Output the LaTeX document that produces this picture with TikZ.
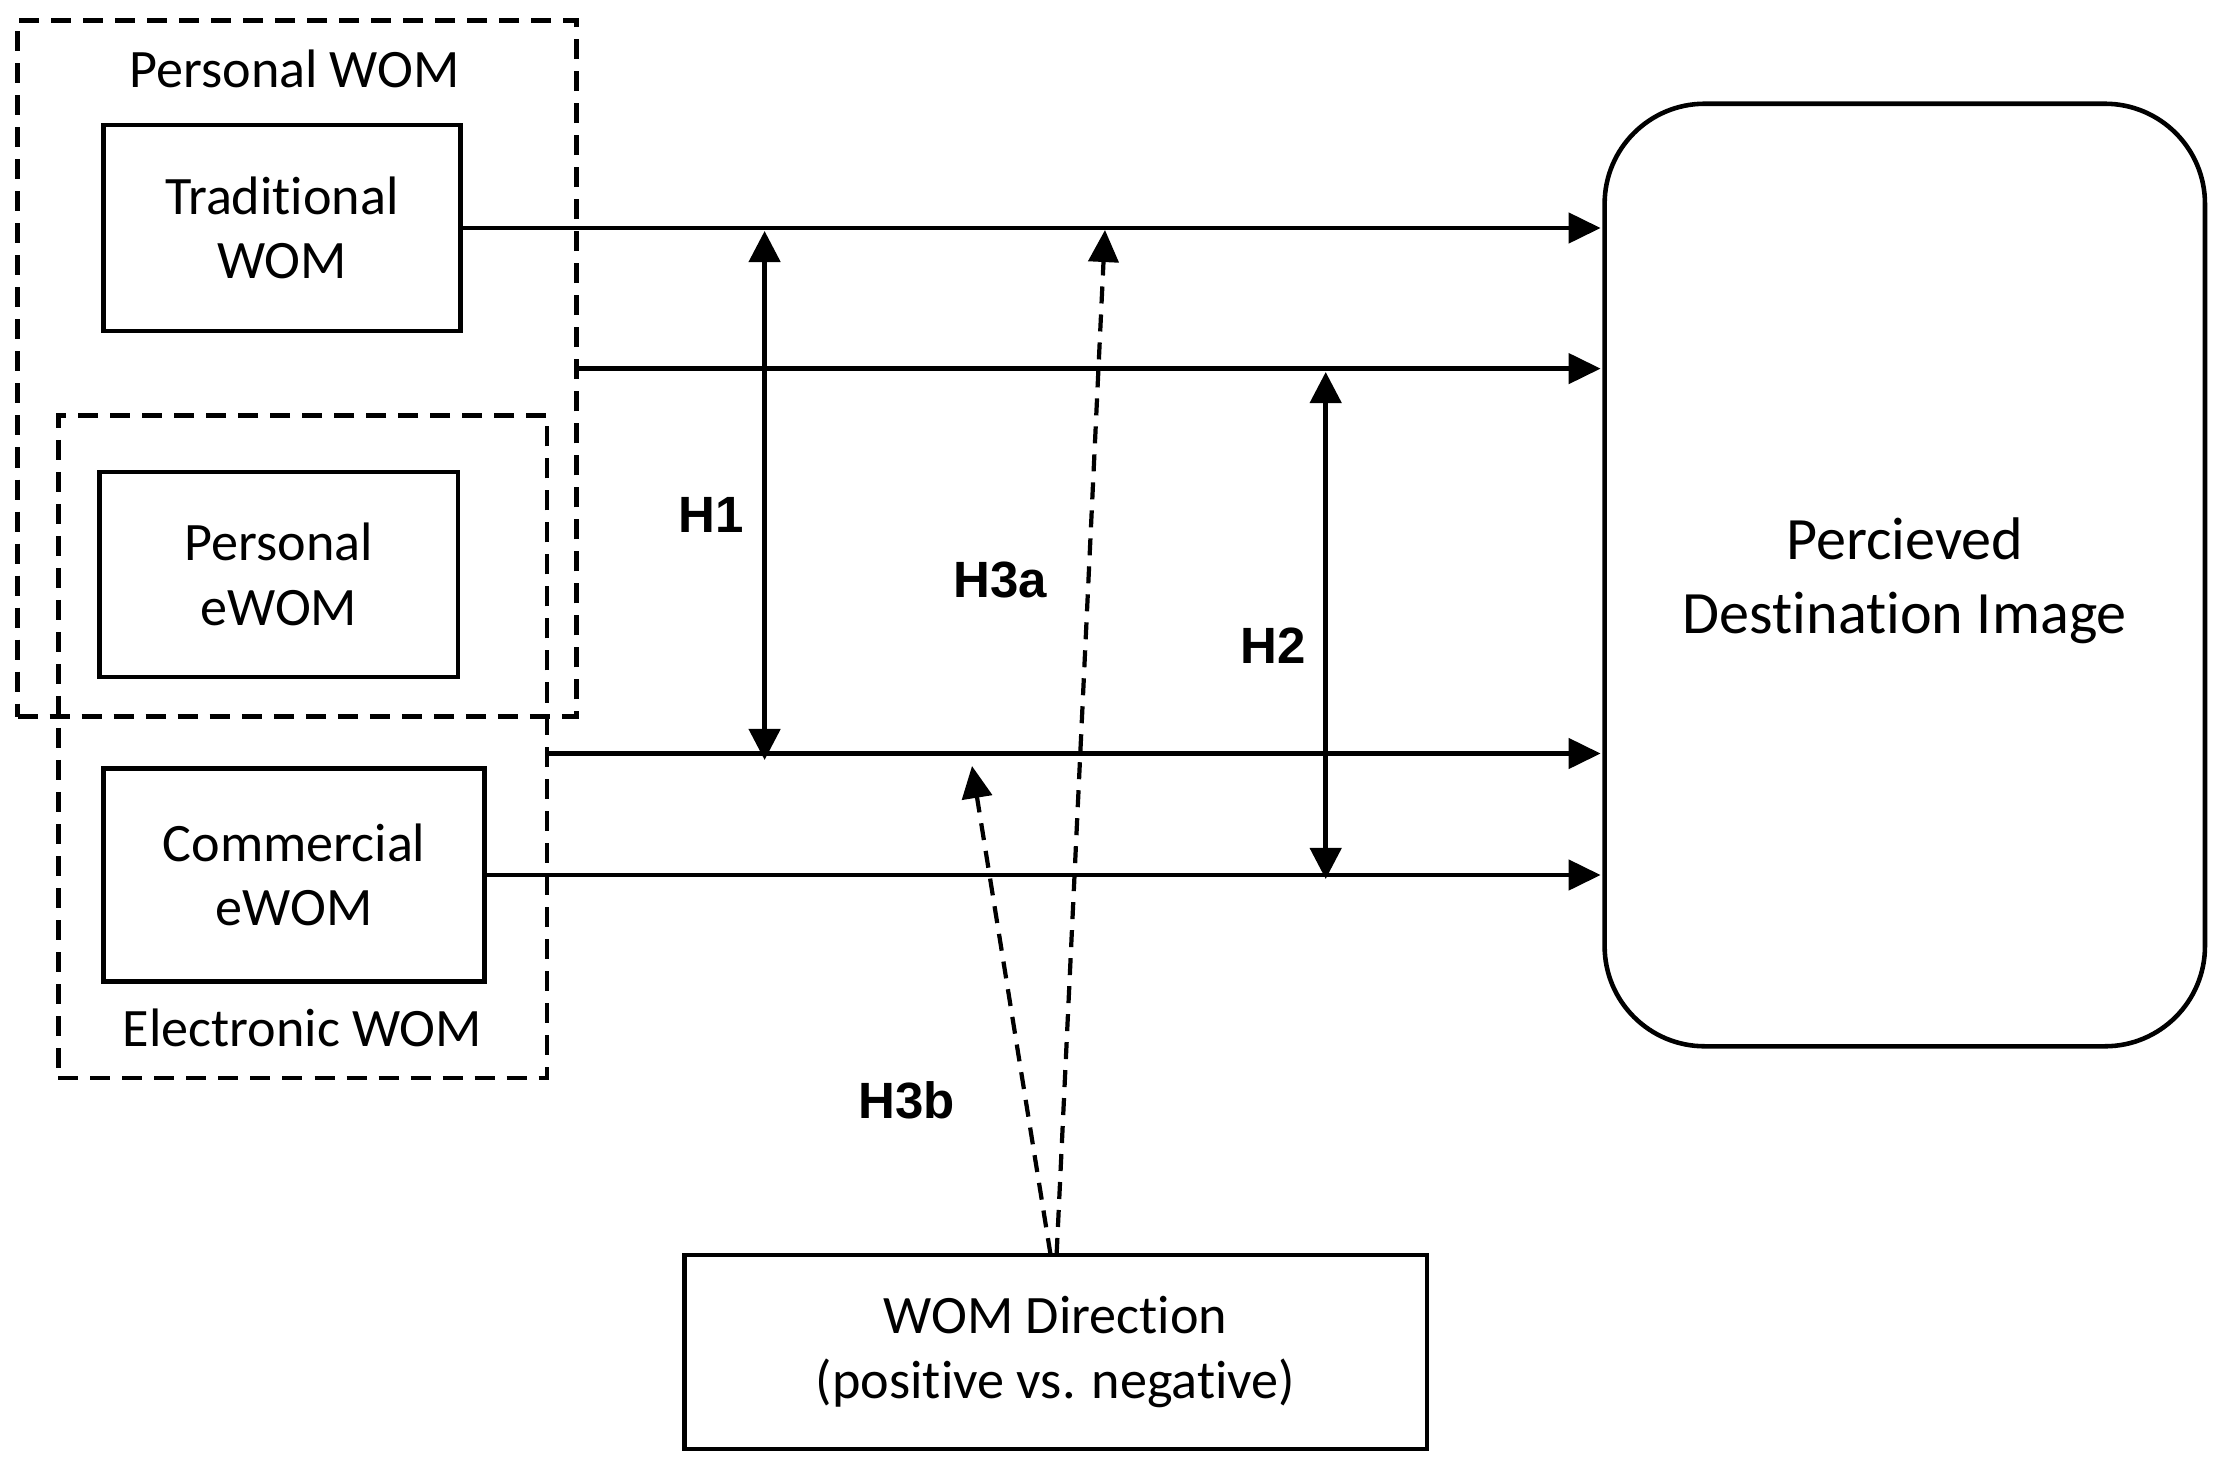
\documentclass[tikz,border=0pt]{standalone}
\usepackage{fontspec}
\setmainfont{Carlito}[Ligatures=NoCommon]
\newfontfamily\labelfont{Liberation Sans}
\usetikzlibrary{arrows.meta,calc}
\begin{document}
\begin{tikzpicture}[x=0.01cm,y=-0.01cm,
  every node/.style={inner sep=0pt, outer sep=0pt},
  box/.style={draw, line width=1.3pt, align=center, font=\fontsize{15.4pt}{18.3pt}\selectfont},
  grp/.style={draw, line width=1.3pt, dash pattern=on 0.2cm off 0.12cm},
  grplabel/.style={font=\fontsize{15.4pt}{18.3pt}\selectfont, anchor=base},
  link/.style={line width=1.3pt, -{Triangle[length=0.32cm,width=0.30cm]}, shorten >=0.04cm},
  hyp/.style={line width=1.3pt, {Triangle[length=0.31cm,width=0.31cm]}-{Triangle[length=0.31cm,width=0.31cm]}},
  mod/.style={line width=1.2pt, dash pattern=on 0.17cm off 0.11cm, -{Triangle[length=0.32cm,width=0.30cm]}},
  hlabel/.style={font=\labelfont\bfseries\fontsize{14.5pt}{17pt}\selectfont}
]
\useasboundingbox (0,0) rectangle (2220,1469);

% group boxes
\node[grp, minimum width=5.587cm, minimum height=6.958cm] (pwom) at (297.15,368.6) {};
\node[grp, minimum width=4.885cm, minimum height=6.625cm] (ewom) at (302.75,746.75) {};
\node[grplabel] (pwl) at (294.6,87) {Personal WOM};
\node[grplabel] (ewl) at (302.5,1046.7) {Electronic WOM};

% boxes
\node[box, minimum width=3.57cm, minimum height=2.06cm] (trad) at (282,228) {Traditional\\WOM};
\node[box, minimum width=3.58cm, minimum height=2.05cm] (pe) at (278.8,574.5) {Personal\\eWOM};
\node[box, minimum width=3.81cm, minimum height=2.13cm] (ce) at (294,875) {Commercial\\eWOM};
\node[box, minimum width=7.42cm, minimum height=1.94cm] (wd) at (1055.6,1352) {WOM Direction\\(positive vs. negative)};
\node[box, rounded corners=1cm, minimum width=6.00cm, minimum height=9.42cm,
      font=\fontsize{17.1pt}{21pt}\selectfont] (pdi) at (1904.8,575) {\rule{0pt}{0.9em}Percieved\\Destination Image};

% links to destination image
\coordinate (e3) at ($(ewom.east)+(0,6.75)$);
\draw[link] (trad.east) -- (trad.east -| pdi.west);
\draw[link] (pwom.east) -- (pwom.east -| pdi.west);
\draw[link] (e3) -- (e3 -| pdi.west);
\draw[link] (ce.east) -- (ce.east -| pdi.west);

% hypotheses H1, H2
\coordinate (h1t) at (764.6,231);
\coordinate (h1b) at (764.6,760);
\draw[hyp] (h1t) -- (h1b);
\coordinate (h2t) at (1325.7,372);
\coordinate (h2b) at (1325.7,879);
\draw[hyp] (h2t) -- (h2b);

% moderation arrows
\coordinate (h3at) at (1105,230);
\coordinate (h3bt) at (972,766);
\draw[mod] ($(wd.north)+(1,0)$) -- (h3at);
\draw[mod] ($(wd.north)+(-5,0)$) -- (h3bt);

% labels
\node[hlabel] (lh1) at (711,515) {H1};
\node[hlabel] (lh2) at (1273,645.6) {H2};
\node[hlabel] (lh3a) at (1000,580) {H3a};
\node[hlabel] (lh3b) at (906.7,1100) {H3b};
\end{tikzpicture}
\end{document}
